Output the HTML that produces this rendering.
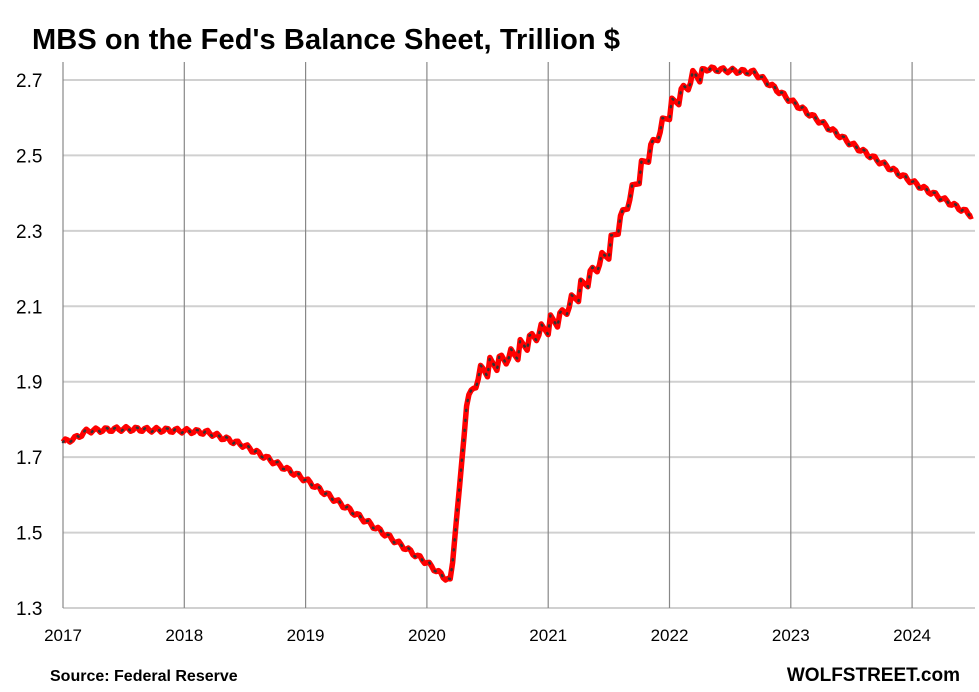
<!DOCTYPE html>
<html><head><meta charset="utf-8"><style>
body{margin:0;background:#fff;font-family:"Liberation Sans",Arial,sans-serif}
svg text{font-family:"Liberation Sans",Arial,sans-serif}
</style></head><body>
<svg id="c" width="979" height="687" xmlns="http://www.w3.org/2000/svg">
<rect width="979" height="687" fill="#fff"/>
<text x="32" y="49" font-size="29" font-weight="bold" fill="#000" textLength="588">MBS on the Fed's Balance Sheet, Trillion $</text>
<g id="grid"></g>
<path id="line" fill="none" stroke="#ff0000" stroke-width="5.5" stroke-linejoin="round"/>
<path id="dots" fill="none" stroke="#333" stroke-width="2.5" stroke-dasharray="1 9" stroke-linecap="round"/>
<text x="50" y="681" font-size="16" font-weight="bold">Source: Federal Reserve</text>
<text x="960" y="681" font-size="19" font-weight="bold" text-anchor="end">WOLFSTREET.com</text>
</svg>
<script>
const NS="http://www.w3.org/2000/svg";
const g=document.getElementById('grid');
function el(t,a,txt){const e=document.createElementNS(NS,t);for(const k in a)e.setAttribute(k,a[k]);if(txt)e.textContent=txt;g.appendChild(e);}
const X=t=>63+(t-2017)*121.3, Y=v=>608-(v-1.3)/0.2*75.43;
for(let i=0;i<8;i++){const v=1.3+i*0.2,y=Y(v);
 el('line',{x1:63,x2:975,y1:y,y2:y,stroke:'#d0d0d0','stroke-width':2});
 el('text',{x:16,y:y+7,'font-size':19,fill:'#000'},v.toFixed(1));}
for(let yr=2017;yr<=2024;yr++){const x=X(yr);
 el('line',{x1:x,x2:x,y1:62,y2:608,stroke:'#888','stroke-width':1.2});
 el('text',{x:x,y:641,'font-size':17,'text-anchor':'middle'},String(yr));}
const k=[[2017,1.74],[2017.1,1.75],[2017.2,1.77],[2017.5,1.775],[2018,1.77],[2018.2,1.765],[2018.5,1.73],[2019,1.64],[2019.5,1.53],[2020,1.42],[2020.15,1.38],[2020.2,1.37],[2020.22,1.46],[2020.27,1.62],[2020.33,1.85],[2020.45,1.93],[2020.7,1.97],[2021,2.05],[2021.1,2.07],[2021.5,2.25],[2021.75,2.45],[2022,2.62],[2022.2,2.71],[2022.3,2.73],[2022.7,2.72],[2023,2.645],[2023.5,2.53],[2024,2.43],[2024.5,2.34]];
function interp(t){for(let i=0;i<k.length-1;i++)if(t<=k[i+1][0]){const f=(t-k[i][0])/(k[i+1][0]-k[i][0]);return k[i][1]+f*(k[i+1][1]-k[i][1]);}return k[k.length-1][1];}
let d='';
for(let t=2017;t<=2024.5;t+=1/52){
 let v=interp(t);const ph=((t*12)%1);
 if(t>2020.4&&t<2022.25){v+=0.05*(ph<0.2?ph/0.2:1-(ph-0.2)/0.8)-0.025;}
 else v+=0.006*Math.sin(ph*2*Math.PI);
 d+=(d?'L':'M')+X(t).toFixed(1)+','+Y(v).toFixed(1);}
document.getElementById('line').setAttribute('d',d);
document.getElementById('dots').setAttribute('d',d);
</script>
</body></html>
